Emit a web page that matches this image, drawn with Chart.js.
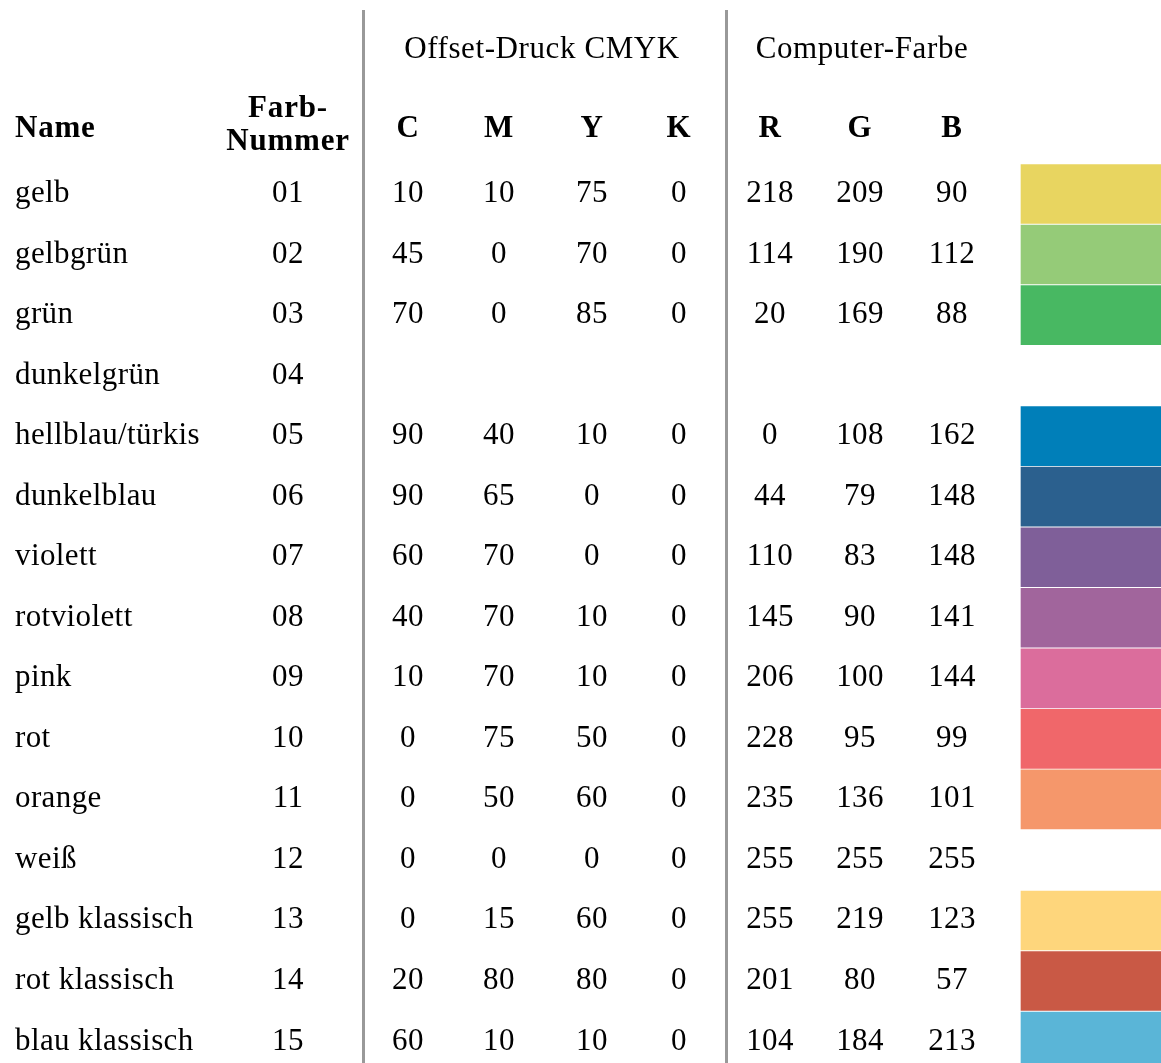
<!DOCTYPE html>
<html>
<head>
<meta charset="utf-8">
<title>Farbtabelle</title>
<script src="https://cdn.jsdelivr.net/npm/chart.js@4/dist/chart.umd.min.js"></script>
<style>
  html, body { margin: 0; padding: 0; background: #fff; }
  #wrap { width: 1161px; height: 1063px; }
</style>
</head>
<body>
<div id="wrap"><canvas id="colorTable"></canvas></div>
<script>
// ------------------- table data --------------------------------------------
const names = ["gelb", "gelbgrün", "grün", "dunkelgrün", "hellblau/türkis", "dunkelblau", "violett",
  "rotviolett", "pink", "rot", "orange", "weiß", "gelb klassisch", "rot klassisch", "blau klassisch"];
const colorNumbers = ["01", "02", "03", "04", "05", "06", "07", "08", "09", "10", "11", "12", "13", "14", "15"];
const cyan = [10, 45, 70, null, 90, 90, 60, 40, 10, 0, 0, 0, 0, 20, 60];
const magenta = [10, 0, 0, null, 40, 65, 70, 70, 70, 75, 50, 0, 15, 80, 10];
const yellow = [75, 70, 85, null, 10, 0, 0, 10, 10, 50, 60, 0, 60, 80, 10];
const black = [0, 0, 0, null, 0, 0, 0, 0, 0, 0, 0, 0, 0, 0, 0];
const red = [218, 114, 20, null, 0, 44, 110, 145, 206, 228, 235, 255, 255, 201, 104];
const green = [209, 190, 169, null, 108, 79, 83, 90, 100, 95, 136, 255, 219, 80, 184];
const blue = [90, 112, 88, null, 162, 148, 148, 141, 144, 99, 101, 255, 123, 57, 213];
// swatch colours as they look in the picture (null = no swatch)
const swatchColors = ["#E8D560", "#95CB78", "#48B862", null, "#007FB9", "#2B608E", "#7F5F99",
  "#A1659C", "#DB6D9C", "#F0676A", "#F5976B", "#FFFFFF", "#FED67C", "#C95945", "#5AB5D7"];

const groupLabels = ["Offset-Druck CMYK", "Computer-Farbe"];
const columnLabels = ["Name", "Farb-\nNummer", "C", "M", "Y", "K", "R", "G", "B"];

// ------------------- layout (x in px units of the x axis, y in row units) ---
const COL_X = [15, 288, 408, 499, 592, 679, 770, 860, 952];
const GROUP_X = [542, 862];
const DIVIDERS = [363.5, 726.5];
const SWATCH = [1021, 1161];
const ROW_GROUP = -2.379;
const ROW_HEAD = -1.074;
const ROW_HEAD_2LINE = -1.13;

const bodyFont = "31px 'Liberation Serif', 'Times New Roman', serif";
const boldFont = "bold 31px 'Liberation Serif', 'Times New Roman', serif";

// one scatter dataset per text column, the plugin writes the text at each point
function textColumn(values, x, align, font) {
  return {
    type: "scatter",
    data: values.map((v, i) => ({ x: x, y: i })),
    cells: values,
    cellAlign: align,
    cellFont: font,
    cellSpacing: "0.4px",
    pointRadius: 0,
    pointHoverRadius: 0,
  };
}

const bodyColumns = [names, colorNumbers, cyan, magenta, yellow, black, red, green, blue];
const datasets = bodyColumns.map((col, c) => textColumn(col, COL_X[c], c === 0 ? "left" : "center", bodyFont));

// column headers
datasets.push({
  type: "scatter",
  data: columnLabels.map((l, c) => ({ x: COL_X[c], y: c === 1 ? ROW_HEAD_2LINE : ROW_HEAD })),
  cells: columnLabels,
  cellAlign: columnLabels.map((l, c) => (c === 0 ? "left" : "center")),
  cellFont: boldFont,
  cellSpacing: "0.8px",
  pointRadius: 0,
});

// group headers
datasets.push({
  type: "scatter",
  data: groupLabels.map((l, g) => ({ x: GROUP_X[g], y: ROW_GROUP })),
  cells: groupLabels,
  cellAlign: "center",
  cellFont: bodyFont,
  cellSpacing: "0.6px",
  pointRadius: 0,
});

// colour swatches as floating horizontal bars
const swatchRows = swatchColors.map((c, i) => i).filter((i) => swatchColors[i] !== null);
datasets.push({
  type: "bar",
  indexAxis: "y",
  data: swatchRows.map((i) => ({ x: SWATCH, y: i })),
  backgroundColor: swatchRows.map((i) => swatchColors[i]),
  borderWidth: 0,
  barThickness: 59,
});

// ------------------- draw the texts -----------------------------------------
const cellText = {
  id: "cellText",
  afterDatasetsDraw(chart) {
    const ctx = chart.ctx;
    chart.data.datasets.forEach((ds, di) => {
      if (!ds.cells) return;
      const meta = chart.getDatasetMeta(di);
      ctx.save();
      ctx.font = ds.cellFont;
      ctx.fillStyle = "#000";
      ctx.textBaseline = "alphabetic";
      if ("letterSpacing" in ctx) ctx.letterSpacing = ds.cellSpacing || "0px";
      meta.data.forEach((pt, i) => {
        const txt = ds.cells[i];
        if (txt === null || txt === undefined) return;
        ctx.textAlign = Array.isArray(ds.cellAlign) ? ds.cellAlign[i] : ds.cellAlign;
        const lines = String(txt).split("\n");
        lines.forEach((line, li) => {
          ctx.fillText(line, pt.x, pt.y + 8 + (li - (lines.length - 1) / 2) * 33);
        });
      });
      ctx.restore();
    });
  },
};

const ctx = document.querySelector("#colorTable").getContext("2d");
const chart = new Chart(ctx, {
  type: "scatter",
  data: { datasets: datasets },
  plugins: [cellText],
  options: {
    responsive: true,
    maintainAspectRatio: false,
    animation: false,
    events: [],
    layout: { padding: { left: 0, right: 0, top: 10, bottom: 0 } },
    plugins: { legend: { display: false }, tooltip: { enabled: false } },
    scales: {
      x: {
        type: "linear",
        min: 0,
        max: 1161,
        offset: false,
        afterBuildTicks: (scale) => {
          scale.ticks = DIVIDERS.map((v) => ({ value: v }));
        },
        ticks: { display: false },
        grid: { color: "#999999", lineWidth: 3, drawTicks: false, offset: false },
        border: { display: false },
      },
      y: {
        type: "linear",
        display: false,
        reverse: true,
        min: -3.0393,
        max: 14.354,
        offset: false,
        grid: { offset: false },
      },
    },
  },
});
</script>
</body>
</html>
